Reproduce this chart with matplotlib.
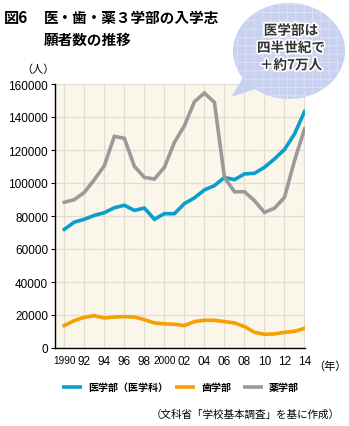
import matplotlib.pyplot as plt
from matplotlib.patches import Ellipse, Polygon
import matplotlib.patheffects as pe

plt.rcParams['font.family'] = ['Noto Sans CJK JP', 'DejaVu Sans']

# data
years = list(range(1990, 2015))
medicine = [71900, 76300, 78000, 80400, 82000, 85000, 86500, 83400, 84800, 78000,
            81400, 81400, 87500, 91000, 95800, 98400, 103400, 102000, 105500, 105900,
            109500, 114600, 120300, 129700, 143200]
dentistry = [13600, 16600, 18600, 19600, 18200, 18800, 19000, 18800, 17200, 15200,
             14600, 14400, 13600, 16000, 16800, 16800, 16000, 15200, 13000, 9500,
             8300, 8500, 9500, 10100, 11900]
pharmacy = [88300, 89900, 94300, 102000, 110500, 128300, 127100, 110100, 103400, 102400,
            109500, 124600, 134700, 149300, 154500, 148900, 103400, 94700, 94700, 89300,
            82200, 84700, 91300, 113500, 132700]
series_names = ['医学部（医学科）', '歯学部', '薬学部']
xtick_years = list(range(1990, 2015, 2))
xtick_labels = ['1990', '92', '94', '96', '98', '2000', '02', '04', '06', '08', '10', '12', '14']
yticks = list(range(0, 160001, 20000))

blue = '#0a9fcb'
orange = '#f5a000'
gray = '#9a9a9a'

fig = plt.figure(figsize=(3.49, 4.27), dpi=100)
ax = fig.add_axes([55 / 349, 1 - 349 / 427, 250 / 349, 264 / 427])
ax.set_facecolor('#fbf6ea')

ax.plot(years, medicine, color=blue, lw=2.6, solid_joinstyle='miter', zorder=3)
ax.plot(years, dentistry, color=orange, lw=2.6, solid_joinstyle='miter', zorder=3)
ax.plot(years, pharmacy, color=gray, lw=2.6, solid_joinstyle='miter', zorder=3)

ax.set_xlim(1989.07, 2014.05)
ax.set_ylim(0, 160000)
ax.set_yticks(yticks)
ax.set_yticklabels([str(v) for v in yticks], family='Liberation Sans', fontsize=8.5)
ax.set_xticks(xtick_years)
ax.set_xticklabels(xtick_labels, family='Liberation Sans', fontsize=8.5)
for lab in ax.get_xticklabels():
    if len(lab.get_text()) == 4:
        lab.set_fontsize(7.2)
ax.tick_params(axis='y', length=3, width=0.8, pad=2, colors='black')
ax.tick_params(axis='x', length=0, pad=5)
ax.grid(True, color='#e2ddd2', lw=0.9, zorder=0)
for s in ['top', 'right']:
    ax.spines[s].set_visible(False)
ax.spines['left'].set_linewidth(1.0)
ax.spines['bottom'].set_linewidth(1.0)

# overlay in pixel coordinates for titles, bubble, legend, notes
ov = fig.add_axes([0, 0, 1, 1])
ov.set_xlim(0, 349)
ov.set_ylim(427, 0)
ov.axis('off')
ov.patch.set_alpha(0)

ov.text(4, 18, '図6', fontsize=11, fontweight='bold', va='center', ha='left')
ov.text(44, 18, '医・歯・薬３学部の入学志', fontsize=10.5, fontweight='bold', va='center', ha='left')
ov.text(44, 40, '願者数の推移', fontsize=10.5, fontweight='bold', va='center', ha='left')
ov.text(38, 70, '（人）', fontsize=8, va='center', ha='center')
ov.text(313, 367, '（年）', fontsize=8, va='center', ha='left')

bubble_color = '#c9d1f1'
ov.add_patch(Polygon([(246, 74), (262, 88), (231, 98)], closed=True,
                     facecolor=bubble_color, edgecolor='none', zorder=5))
ov.add_patch(Ellipse((289, 52), 112, 96, facecolor=bubble_color, edgecolor='none', zorder=5))
plt.rcParams['hatch.linewidth'] = 0.5
ov.add_patch(Ellipse((289, 52), 112, 96, facecolor='none', edgecolor='#dfe4f8',
                     lw=0, hatch='++', zorder=6))
ov.text(291, 49, '医学部は\n四半世紀で\n＋約7万人', fontsize=9.8, fontweight='bold',
        color='#333333', ha='center', va='center', linespacing=1.3, zorder=7,
        path_effects=[pe.withStroke(linewidth=2.5, foreground='white')])

# legend
colors = [blue, orange, gray]
starts = [62, 175, 243]
for x0, c, name in zip(starts, colors, series_names):
    ov.plot([x0, x0 + 20], [388, 388], color=c, lw=2.6, solid_capstyle='butt')
    ov.text(x0 + 26, 388, name, fontsize=7.2, fontweight='bold', va='center', ha='left')

ov.text(340, 415, '（文科省「学校基本調査」を基に作成）', fontsize=7.6, va='center', ha='right')

fig.savefig('out.png', dpi=100)
